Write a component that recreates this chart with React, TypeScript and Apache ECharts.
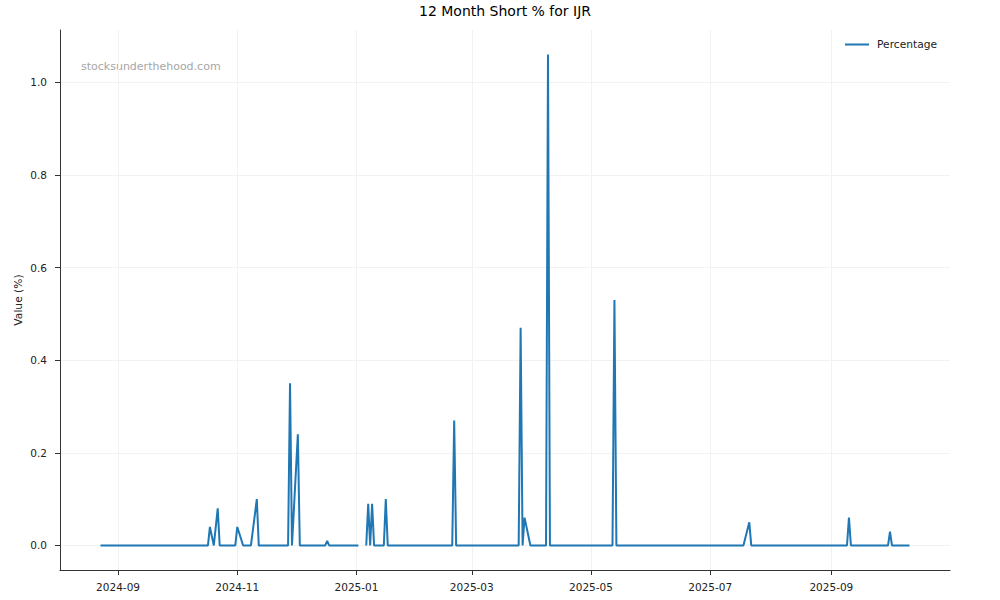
import React, { useEffect, useRef } from "react";
import * as echarts from "echarts";

// Dates of the observations and their short-interest percentages (null = missing)
const dates: string[] = [
  "2024-08-23", "2024-10-17", "2024-10-18", "2024-10-20", "2024-10-22", "2024-10-23",
  "2024-10-31", "2024-11-01", "2024-11-04", "2024-11-08", "2024-11-11", "2024-11-12",
  "2024-11-27", "2024-11-28", "2024-11-29", "2024-12-02", "2024-12-03", "2024-12-16",
  "2024-12-17", "2024-12-18", "2025-01-02", "2025-01-03", "2025-01-06", "2025-01-07",
  "2025-01-08", "2025-01-09", "2025-01-10", "2025-01-15", "2025-01-16", "2025-01-17",
  "2025-02-19", "2025-02-20", "2025-02-21", "2025-03-25", "2025-03-26", "2025-03-27",
  "2025-03-28", "2025-03-31", "2025-04-08", "2025-04-09", "2025-04-10", "2025-05-12",
  "2025-05-13", "2025-05-14", "2025-07-18", "2025-07-21", "2025-07-22", "2025-09-09",
  "2025-09-10", "2025-09-11", "2025-09-30", "2025-10-01", "2025-10-02", "2025-10-11",
];
const percentage: (number | null)[] = [
  0, 0, 0.04, 0, 0.08, 0,
  0, 0.04, 0, 0, 0.10, 0,
  0, 0.35, 0, 0.24, 0, 0,
  0.01, 0, 0, null, 0, 0.09,
  0, 0.09, 0, 0, 0.10, 0,
  0, 0.27, 0, 0, 0.47, 0,
  0.06, 0, 0, 1.06, 0, 0,
  0.53, 0, 0, 0.05, 0, 0,
  0.06, 0, 0, 0.03, 0, 0,
];

const xTicks: string[] = ["2024-09-01", "2024-11-01", "2025-01-01", "2025-03-01", "2025-05-01", "2025-07-01", "2025-09-01"];
const yTicks: number[] = [0, 0.2, 0.4, 0.6, 0.8, 1.0];
const xMin = "2024-08-02T07:00:00";
const xMax = "2025-10-31T17:00:00";
const yMin = -0.053;
const yMax = 1.113;

const FONT = "DejaVu Sans";

const ts = (s: string) => new Date(s.length === 10 ? s + "T00:00:00" : s).getTime();

export default function App() {
  const ref = useRef<HTMLDivElement>(null);
  useEffect(() => {
    if (!ref.current) return;
    const chart = echarts.init(ref.current, undefined, { renderer: "svg" });
    const pad = (n: number) => (n < 10 ? "0" + n : "" + n);
    const xTickValues = xTicks.map(ts);
    chart.setOption({
      animation: false,
      backgroundColor: "#ffffff",
      textStyle: { fontFamily: FONT },
      title: {
        text: "12 Month Short % for IJR",
        left: 505,
        textAlign: "center",
        top: 4,
        padding: 0,
        textStyle: { fontFamily: FONT, fontSize: 14, fontWeight: "normal", color: "#000" },
      },
      legend: {
        data: [{ name: "Percentage", icon: "rect" }],
        left: 845,
        top: 39,
        padding: 0,
        itemWidth: 24,
        itemHeight: 2,
        textStyle: { fontFamily: FONT, fontSize: 10.7, color: "#222", padding: [0, 0, 0, 3] },
      },
      grid: { left: 60, right: 50, top: 30, bottom: 30 },
      xAxis: {
        type: "value",
        min: ts(xMin),
        max: ts(xMax),
        scale: true,
        axisLine: { show: true, onZero: false, lineStyle: { color: "#333", width: 1 } },
        axisTick: { show: true, length: 5, lineStyle: { color: "#333" }, customValues: xTickValues },
        axisLabel: {
          customValues: xTickValues,
          fontFamily: FONT,
          fontSize: 10.5,
          color: "#222",
          margin: 11,
          formatter: (v: number) => {
            const d = new Date(v);
            return d.getFullYear() + "-" + pad(d.getMonth() + 1);
          },
        },
        splitLine: { show: true, lineStyle: { color: "#f2f2f2", width: 1 } },
      },
      yAxis: {
        type: "value",
        min: yMin,
        max: yMax,
        name: "Value (%)",
        nameLocation: "middle",
        nameGap: 36,
        nameMoveOverlap: false,
        nameTextStyle: { fontFamily: FONT, fontSize: 10.7, color: "#222" },
        axisLine: { show: true, onZero: false, lineStyle: { color: "#333", width: 1 } },
        axisTick: { show: true, length: 5, lineStyle: { color: "#333" }, customValues: yTicks },
        axisLabel: {
          customValues: yTicks,
          fontFamily: FONT,
          fontSize: 10.5,
          color: "#222",
          margin: 13,
          formatter: (v: number) => v.toFixed(1),
        },
        splitLine: { show: true, lineStyle: { color: "#f2f2f2", width: 1 } },
      },
      graphic: [
        {
          type: "text",
          x: 81,
          y: 66,
          style: {
            text: "stocksunderthehood.com",
            fill: "#a6a6a6",
            font: "11px 'DejaVu Sans'",
            textVerticalAlign: "middle",
          },
        },
      ],
      series: [
        {
          name: "Percentage",
          type: "line",
          data: dates.map((d, i) => [ts(d), percentage[i]]),
          symbol: "none",
          showSymbol: false,
          connectNulls: false,
          lineStyle: { color: "#1f77b4", width: 2 },
          itemStyle: { color: "#1f77b4" },
        },
      ],
    });
    return () => chart.dispose();
  }, []);
  return (
    <div
      ref={ref}
      style={{ position: "fixed", left: 0, top: 0, width: 1000, height: 600 }}
    />
  );
}
